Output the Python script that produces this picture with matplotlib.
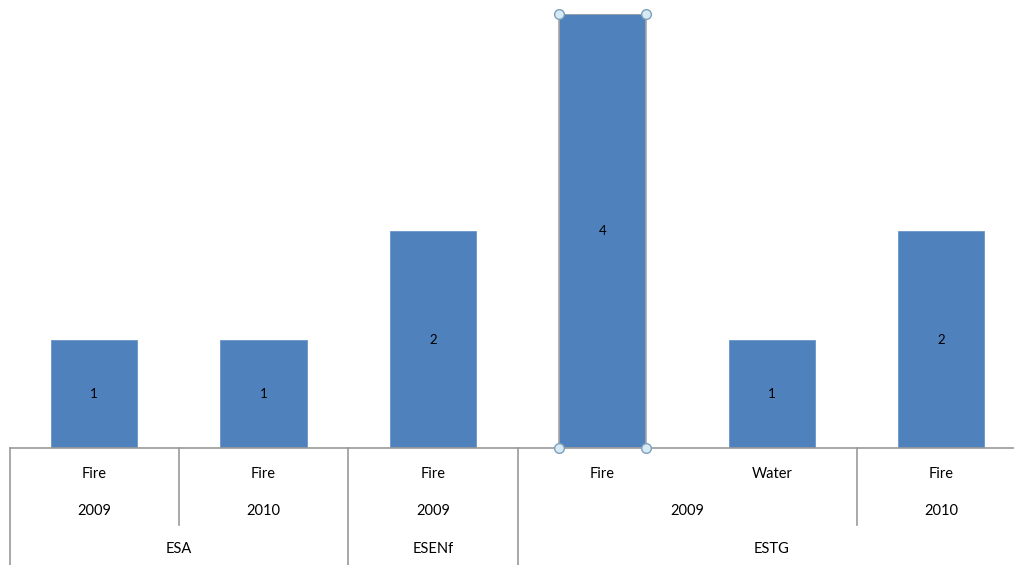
import matplotlib.pyplot as plt
from matplotlib import transforms

plt.rcParams['font.family'] = ['Lato', 'DejaVu Sans']

schools = ['ESA', 'ESA', 'ESENf', 'ESTG', 'ESTG', 'ESTG']
years = ['2009', '2010', '2009', '2009', '2009', '2010']
kinds = ['Fire', 'Fire', 'Fire', 'Fire', 'Water', 'Fire']
counts = [1, 1, 2, 4, 1, 2]
selected = 3

W, H = 1014, 565
fig = plt.figure(figsize=(W / 100, H / 100), dpi=100)
# plot area runs a little past the right edge of the figure
ax = fig.add_axes([9.5 / W, (H - 448) / H, (1026 - 9.5) / W, (448 - 14) / H])

x = list(range(len(counts)))
bar_color = '#4F81BD'
bars = ax.bar(x, counts, width=0.51, color=bar_color, edgecolor='#6A95C8', linewidth=0.6)
bars[selected].set_edgecolor('#A6A6A6')
bars[selected].set_linewidth(1.2)

for xi, v in zip(x, counts):
    ax.text(xi, v / 2, str(v), ha='center', va='center', fontsize=9.5, color='black')

# selection handles on the highlighted bar
hw = 0.51 / 2
hx = [selected - hw, selected + hw, selected - hw, selected + hw]
hy = [0, 0, counts[selected], counts[selected]]
ax.plot(hx, hy, 'o', ms=7, mfc='#D5EAF5', mec='#7E9FBB', mew=1, clip_on=False, zorder=5)

ax.set_xlim(-0.5, len(counts) - 0.5)
ax.set_ylim(0, 4)
ax.set_xticks([])
ax.set_yticks([])
for side in ['top', 'left', 'right']:
    ax.spines[side].set_visible(False)
ax.spines['bottom'].set_color('#9A9A9A')
ax.spines['bottom'].set_linewidth(1.2)

# multi-level category axis
tr = transforms.blended_transform_factory(ax.transData, fig.transFigure)
fy = lambda py: 1 - py / H
line_kw = dict(color='#9A9A9A', lw=1.2, clip_on=False, transform=tr)

for i in range(len(counts) + 1):
    b = i - 0.5
    if i == 0 or i == len(counts) or schools[i] != schools[i - 1]:
        ax.plot([b, b], [fy(448), fy(565)], **line_kw)
    elif years[i] != years[i - 1]:
        ax.plot([b, b], [fy(448), fy(525)], **line_kw)

for xi, k in zip(x, kinds):
    ax.text(xi, fy(474), k, ha='center', va='center', fontsize=10.5, transform=tr)


def spans(keys):
    out = []
    start = 0
    for i in range(1, len(keys) + 1):
        if i == len(keys) or keys[i] != keys[start]:
            out.append((start, i - 1))
            start = i
    return out


for a, b in spans(list(zip(schools, years))):
    ax.text((a + b) / 2, fy(511), years[a], ha='center', va='center', fontsize=10.5, transform=tr)
for a, b in spans(schools):
    ax.text((a + b) / 2, fy(549), schools[a], ha='center', va='center', fontsize=10.5, transform=tr)

fig.savefig('out.png', dpi=100)
